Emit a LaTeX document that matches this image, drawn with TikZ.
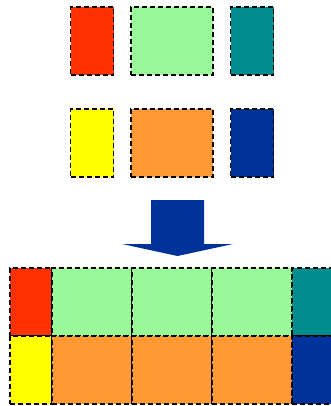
\documentclass[tikz,border=0pt]{standalone}
\usepackage{tikz}
\usetikzlibrary{positioning, calc}
\definecolor{tilered}{RGB}{255, 51, 0}
\definecolor{tilegreen}{RGB}{152, 250, 152}
\definecolor{tileteal}{RGB}{0, 140, 140}
\definecolor{tileyellow}{RGB}{255, 255, 0}
\definecolor{tileorange}{RGB}{255, 153, 51}
\definecolor{tileblue}{RGB}{0, 51, 153}
\tikzset{
    tile/.style = {rectangle, draw=black, line width=1.8pt, dash pattern=on 5pt off 3pt, inner sep=0pt, outer sep=0pt, minimum height=68pt},
    narrow/.style = {tile, minimum width=43pt},
    wide/.style = {tile, minimum width=82pt},
    cell/.style = {tile, minimum width=80pt},
    bigarrow/.style = {fill=tileblue, draw=none}
}

\begin{document}
\begin{tikzpicture}[x=1pt, y=-1pt]
\useasboundingbox (0,0) rectangle (331,406);
% source tiles
\node (R) [narrow, fill=tilered] at (92,41) {};
\node (G) [wide, fill=tilegreen] at (172,41) {};
\node (T) [narrow, fill=tileteal] at (252,41) {};
\node (Y) [narrow, fill=tileyellow] at (92,143) {};
\node (O) [wide, fill=tileorange] at (172,143) {};
\node (B) [narrow, fill=tileblue] at (252,143) {};

% down arrow
\fill [bigarrow] (151,200) -- (204,200) -- (204,244) -- (233,244) -- (177.5,256) -- (122,244) -- (151,244) -- cycle;

% tiled result
\node (RR) [narrow, minimum width=42pt, fill=tilered] at (31,302) {};
\node (G1) [cell, fill=tilegreen, right=0pt of RR] {};
\node (G2) [cell, fill=tilegreen, right=0pt of G1] {};
\node (G3) [cell, fill=tilegreen, right=0pt of G2] {};
\node (TT) [narrow, fill=tileteal, right=0pt of G3] {};
\node (YY) [narrow, minimum width=42pt, fill=tileyellow, below=0pt of RR] {};
\node (O1) [cell, fill=tileorange, right=0pt of YY] {};
\node (O2) [cell, fill=tileorange, right=0pt of O1] {};
\node (O3) [cell, fill=tileorange, right=0pt of O2] {};
\node (BB) [narrow, fill=tileblue, right=0pt of O3] {};
\end{tikzpicture}
\end{document}
